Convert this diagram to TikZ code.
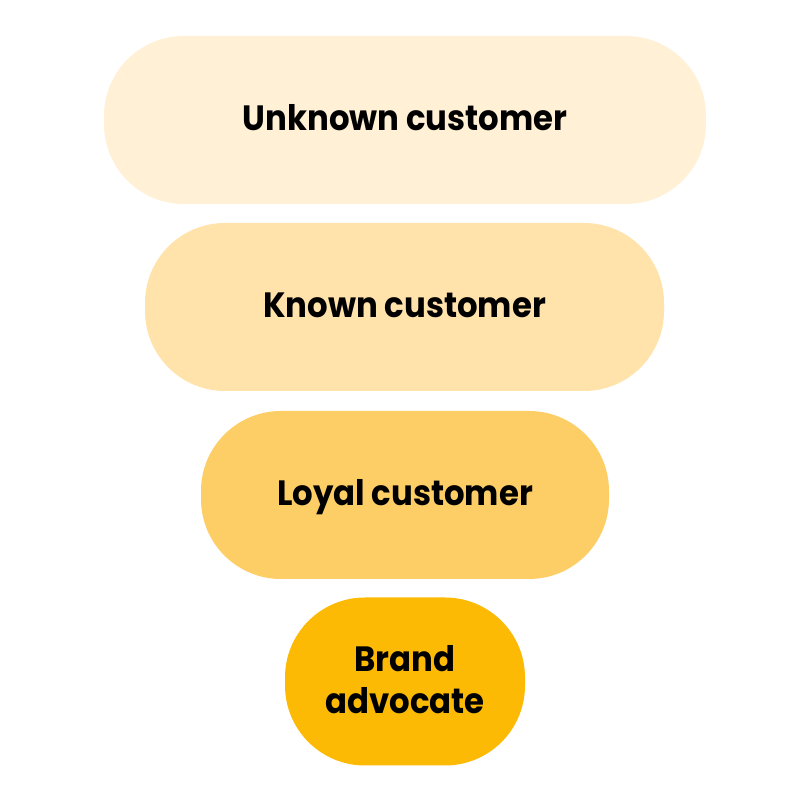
\documentclass[tikz,border=0pt]{standalone}
\usepackage{fontspec}
\setmainfont{Poppins}[FakeStretch=0.92]
\usepackage{xcolor}
\definecolor{stageA}{RGB}{255,240,214}
\definecolor{stageB}{RGB}{255,227,171}
\definecolor{stageC}{RGB}{253,206,102}
\definecolor{stageD}{RGB}{252,186,4}
\tikzset{
	stage/.style={rounded corners=0.8cm,minimum height=1.68cm,inner sep=0pt,
		text height=0.26cm,text depth=0.04cm,
		align=center,font=\fontsize{10}{12.2}\selectfont\bfseries}
}

\begin{document}
\begin{tikzpicture}
	\useasboundingbox[fill=white] (0,0) rectangle (8,8);

	\node[stage,fill=stageA,minimum width=6.02cm] (unknown) at (4.05,6.80){Unknown customer};
	\node[stage,fill=stageB,minimum width=5.19cm] (known) at (4.045,4.93){Known customer};
	\node[stage,fill=stageC,minimum width=4.08cm] (loyal) at (4.05,3.05){Loyal customer};
	\node[stage,fill=stageD,minimum width=2.40cm,text height=0.69cm] (advocate) at (4.05,1.185){Brand\\advocate};
\end{tikzpicture}
\end{document}
